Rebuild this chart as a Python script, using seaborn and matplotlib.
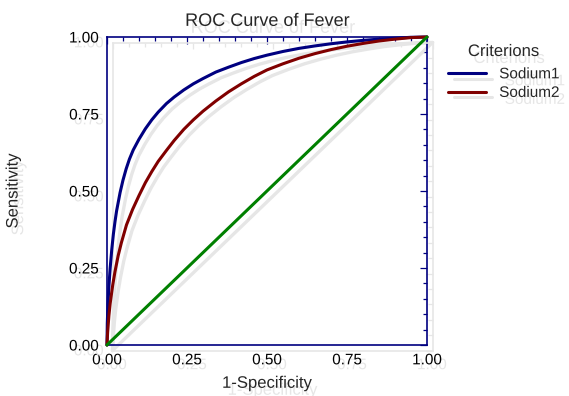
import matplotlib
matplotlib.use("Agg")
import matplotlib.pyplot as plt
import matplotlib.patheffects as pe
from matplotlib.transforms import offset_copy
from matplotlib.ticker import MultipleLocator, FormatStrFormatter
import pandas as pd
import seaborn as sns

# values (1-specificity, sensitivity)
sodium1_fpr = [0.0, 0.001, 0.003, 0.006, 0.01, 0.015, 0.02, 0.025, 0.03, 0.041, 0.05,
               0.06, 0.07, 0.082, 0.1, 0.12, 0.14, 0.16, 0.186, 0.21, 0.24, 0.27, 0.3,
               0.34, 0.38, 0.42, 0.46, 0.5, 0.55, 0.6, 0.65, 0.7, 0.75, 0.8, 0.85, 0.9,
               0.95, 1.0]
sodium1_tpr = [0.0, 0.07, 0.13, 0.19, 0.25, 0.31, 0.36, 0.40, 0.435, 0.495, 0.535,
               0.572, 0.603, 0.633, 0.668, 0.702, 0.731, 0.756, 0.784, 0.805, 0.828, 0.848,
               0.865, 0.886, 0.902, 0.917, 0.930, 0.941, 0.953, 0.963, 0.971, 0.978, 0.984,
               0.989, 0.993, 0.996, 0.999, 1.0]

sodium2_fpr = [0.0, 0.002, 0.006, 0.01, 0.018, 0.025, 0.035, 0.045, 0.061, 0.08, 0.1,
               0.12, 0.14, 0.16, 0.186, 0.21, 0.24, 0.27, 0.3, 0.34, 0.38, 0.42, 0.46,
               0.5, 0.55, 0.6, 0.65, 0.7, 0.75, 0.8, 0.85, 0.9, 0.95, 1.0]
sodium2_tpr = [0.0, 0.04, 0.095, 0.135, 0.195, 0.238, 0.29, 0.332, 0.39, 0.44, 0.485,
               0.527, 0.563, 0.596, 0.632, 0.664, 0.700, 0.731, 0.759, 0.792, 0.822, 0.848,
               0.872, 0.893, 0.913, 0.931, 0.946, 0.959, 0.970, 0.979, 0.987, 0.993, 0.998,
               1.0]

chance_fpr = [0.0, 1.0]
chance_tpr = [0.0, 1.0]

criteria = ["Sodium1", "Sodium2"]
colors = ["#000080", "#800000"]
chance_color = "#008000"

sns.set_style("white")
plt.rcParams["font.family"] = ["Liberation Sans", "DejaVu Sans"]

shadow_gray = "#e6e6e6"
line_shadow = [pe.SimpleLineShadow(offset=(4, -4), shadow_color=shadow_gray, alpha=1.0), pe.Normal()]
text_shadow = [pe.SimplePatchShadow(offset=(4, -5), shadow_rgbFace=shadow_gray, alpha=1.0), pe.Normal()]
tick_shadow = [pe.SimplePatchShadow(offset=(3.5, -3.5), shadow_rgbFace=shadow_gray, alpha=1.0), pe.Normal()]

df = pd.concat([
    pd.DataFrame({"fpr": sodium1_fpr, "tpr": sodium1_tpr, "Criterions": "Sodium1"}),
    pd.DataFrame({"fpr": sodium2_fpr, "tpr": sodium2_tpr, "Criterions": "Sodium2"}),
])

fig = plt.figure(figsize=(5.69, 3.96), dpi=100)
ax = fig.add_axes([0.188, 0.1288, 0.5624, 0.7778])

sns.lineplot(data=df, x="fpr", y="tpr", hue="Criterions", hue_order=criteria,
             palette=colors, estimator=None, sort=False, linewidth=2.2, ax=ax, zorder=3,
             solid_joinstyle="round")
sns.lineplot(x=chance_fpr, y=chance_tpr, color=chance_color, linewidth=2.2, ax=ax,
             legend=False, zorder=4)

# grey drop shadows sit behind every curve
shadow_trans = offset_copy(ax.transData, fig=fig, x=4, y=-4, units="points")
for line in list(ax.lines):
    line.set_clip_on(False)
    ax.plot(line.get_xdata(), line.get_ydata(), color=shadow_gray, linewidth=2.4,
            transform=shadow_trans, zorder=1, clip_on=False, solid_joinstyle="round")

ax.set_xlim(0, 1)
ax.set_ylim(0, 1)
ax.xaxis.set_major_locator(MultipleLocator(0.25))
ax.yaxis.set_major_locator(MultipleLocator(0.25))
ax.xaxis.set_minor_locator(MultipleLocator(0.05))
ax.yaxis.set_minor_locator(MultipleLocator(0.05))
ax.xaxis.set_major_formatter(FormatStrFormatter("%.2f"))
ax.yaxis.set_major_formatter(FormatStrFormatter("%.2f"))

navy = "#000080"
ax.tick_params(which="both", direction="in", top=True, right=True, color=navy,
               width=0.9, labelsize=11, labelcolor="black", pad=6)
ax.tick_params(which="major", length=5)
ax.tick_params(which="minor", length=3)
for spine in ax.spines.values():
    spine.set_color(navy)
    spine.set_linewidth(1.2)
    spine.set_path_effects(line_shadow)

for axis in (ax.xaxis, ax.yaxis):
    for tick in axis.get_major_ticks() + axis.get_minor_ticks():
        tick.tick1line.set_path_effects(line_shadow)
        tick.tick2line.set_path_effects(line_shadow)
for lbl in ax.get_xticklabels() + ax.get_yticklabels():
    lbl.set_path_effects(tick_shadow)

ax.set_title("ROC Curve of Fever", fontsize=13, pad=8, path_effects=text_shadow)
ax.set_xlabel("1-Specificity", fontsize=12, path_effects=text_shadow)
ax.set_ylabel("Sensitivity", fontsize=12, path_effects=text_shadow)
ax.xaxis.set_label_coords(0.5, -0.1)
ax.yaxis.set_label_coords(-0.27, 0.5)

handles, labels = ax.get_legend_handles_labels()
leg = ax.legend(handles[:2], labels[:2], title="Criterions", loc="upper left",
                bbox_to_anchor=(448 / 569, 1 - 44 / 396), bbox_transform=fig.transFigure,
                frameon=False, fontsize=11, title_fontsize=12, borderpad=0,
                borderaxespad=0, handlelength=2.5, handletextpad=0.85, labelspacing=0.3)
leg._legend_box.sep = 6.0
for hl in leg.get_lines():
    hl.set_path_effects(line_shadow)
for txt in leg.get_texts():
    txt.set_path_effects(text_shadow)
leg.get_title().set_path_effects(text_shadow)

fig.savefig("out.png", dpi=100)
